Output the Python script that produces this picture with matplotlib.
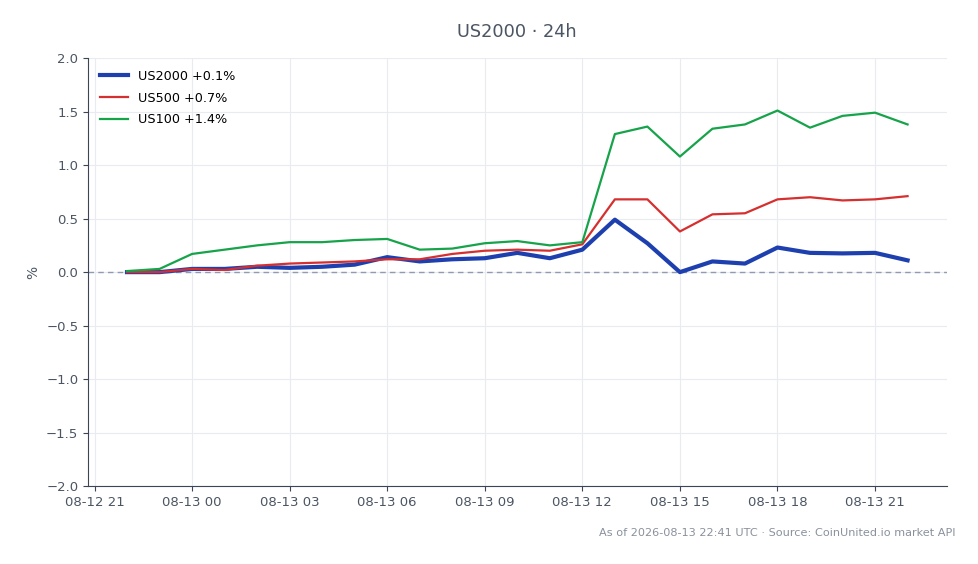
import matplotlib
matplotlib.use('Agg')
import matplotlib.pyplot as plt
import matplotlib.dates as mdates
import numpy as np
import pandas as pd

times = pd.date_range('2026-08-12 22:00', '2026-08-13 22:00', freq='h')

us2000 = [0.00, 0.00, 0.03, 0.03, 0.05, 0.04, 0.05, 0.07, 0.14, 0.10, 0.12, 0.13, 0.18,
          0.13, 0.21, 0.49, 0.27, 0.00, 0.10, 0.08, 0.23, 0.18, 0.175, 0.18, 0.11]
us500 = [0.00, 0.00, 0.03, 0.02, 0.06, 0.08, 0.09, 0.10, 0.12, 0.12, 0.17, 0.20, 0.21,
         0.20, 0.26, 0.68, 0.68, 0.38, 0.54, 0.55, 0.68, 0.70, 0.67, 0.68, 0.71]
us100 = [0.01, 0.03, 0.17, 0.21, 0.25, 0.28, 0.28, 0.30, 0.31, 0.21, 0.22, 0.27, 0.29,
         0.25, 0.28, 1.29, 1.36, 1.08, 1.34, 1.38, 1.51, 1.35, 1.46, 1.49, 1.38]

names = ['US2000', 'US500', 'US100']
colors = ['#1e40af', '#d62f2f', '#16a34a']
widths = [3.0, 1.6, 1.6]

text_col = '#4b5563'
fig = plt.figure(figsize=(9.79, 5.64), dpi=100)
ax = fig.add_axes([0.0899, 0.138, 0.877, 0.759])

for name, vals, c, lw in zip(names, [us2000, us500, us100], colors, widths):
    ax.plot(times, vals, color=c, lw=lw, label=f'{name} {vals[-1]:+.1f}%', zorder=3)

# baseline at zero
ax.axhline(0, color='#8f9bb3', lw=1, ls=(0, (4, 3)), zorder=2)
ax.set_ylim(-2, 2)
ax.set_yticks(np.arange(-2, 2.01, 0.5))
ax.set_ylabel('%', color=text_col, fontsize=10)
ax.xaxis.set_major_locator(mdates.HourLocator(byhour=range(0, 24, 3)))
ax.xaxis.set_major_formatter(mdates.DateFormatter('%m-%d %H'))
ax.grid(True, color='#e8ebf0', lw=0.8, zorder=0)
ax.set_axisbelow(True)
for s in ['top', 'right']:
    ax.spines[s].set_visible(False)
for s in ['left', 'bottom']:
    ax.spines[s].set_color('#3b4556')
ax.tick_params(colors='#3b4556', labelcolor=text_col, labelsize=9.5)

ax.legend(loc='upper left', frameon=False, fontsize=9.2, handlelength=2.2, labelspacing=0.7)
fig.text(0.528, 0.944, 'US2000 · 24h', ha='center', va='center', fontsize=12.8, color=text_col)
fig.text(0.976, 0.055, 'As of 2026-08-13 22:41 UTC · Source: CoinUnited.io market API',
         ha='right', va='center', fontsize=8.1, color='#8a919c')

fig.savefig('out.png', dpi=100)
